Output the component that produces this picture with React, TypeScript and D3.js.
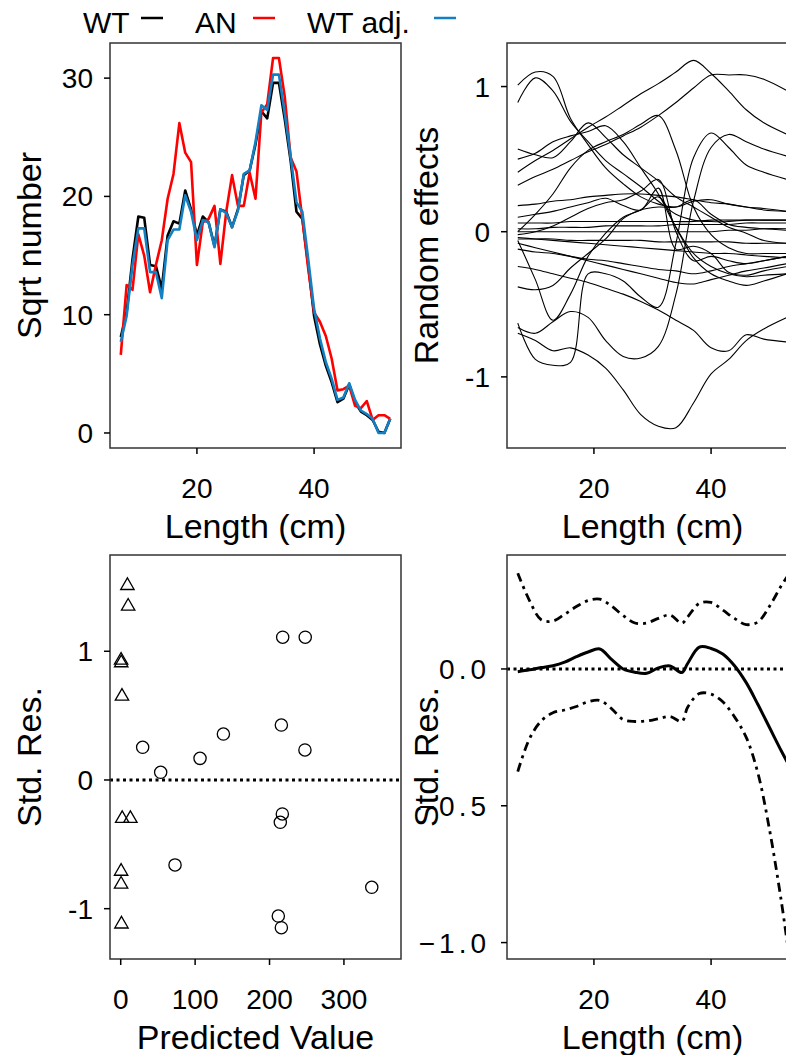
import React from "react";
import * as d3 from "d3";

// ---- panel A: sqrt numbers by length ----
const LENGTHS = [7, 8, 9, 10, 11, 12, 13, 14, 15, 16, 17, 18, 19, 20, 21, 22, 23, 24, 25, 26, 27, 28, 29, 30,
  31, 32, 33, 34, 35, 36, 37, 38, 39, 40, 41, 42, 43, 44, 45, 46, 47, 48, 49, 50, 51, 52, 53];
const WT = [8.1, 10.2, 14.7, 18.3, 18.2, 14.2, 14.1, 12.2, 16.7, 17.9, 17.7, 20.5, 18.9, 16.7, 18.3, 17.8, 15.8,
  18.9, 18.7, 17.4, 18.9, 21.8, 22.2, 24.4, 27.2, 26.6, 29.6, 29.6, 26.5, 23.0, 18.7, 18.1, 14.2, 9.9, 7.5, 5.7,
  4.3, 2.6, 2.9, 4.1, 2.6, 1.8, 1.5, 1.1, 0.1, 0.0, 1.2];
const AN = [6.6, 12.5, 12.1, 16.8, 15.0, 11.9, 14.2, 16.3, 19.8, 21.9, 26.2, 23.7, 22.9, 14.2, 17.8, 18.1, 19.2,
  14.3, 18.7, 21.8, 19.2, 19.2, 22.0, 19.8, 27.1, 27.8, 31.7, 31.7, 28.4, 23.3, 22.1, 18.1, 13.9, 10.2, 9.4, 8.2,
  6.3, 3.6, 3.7, 4.0, 2.3, 2.1, 2.7, 1.1, 1.5, 1.5, 1.2];
const WT_ADJ = [7.7, 9.9, 14.2, 17.3, 17.3, 13.6, 13.6, 11.4, 16.3, 17.2, 17.2, 20.1, 18.7, 16.3, 18.0, 17.8, 15.7,
  18.9, 18.6, 17.4, 18.8, 21.9, 22.2, 24.6, 27.7, 27.3, 30.3, 30.3, 27.0, 23.4, 19.5, 18.7, 14.7, 10.5, 8.0, 6.0,
  4.6, 2.8, 3.0, 4.2, 2.8, 1.9, 1.6, 1.2, 0.0, 0.0, 1.2];

// ---- panel B: random effects ----
const RE_LENGTHS = [7, 10, 13, 16, 19, 22, 25, 28, 31, 34, 37, 40, 43, 46, 49, 53];
const RE_CURVES = [
  [0.41, 0.49, 0.56, 0.64, 0.72, 0.79, 0.87, 0.95, 1.02, 1.1, 1.18, 1.09, 0.97, 0.84, 0.75, 0.67],
  [0.32, 0.38, 0.43, 0.49, 0.55, 0.6, 0.66, 0.72, 0.8, 0.89, 0.99, 1.08, 1.08, 1.08, 1.05, 0.97],
  [1.01, 1.1, 1.07, 0.78, 0.6, 0.44, 0.33, 0.24, 0.19, 0.17, 0.21, 0.22, 0.19, 0.17, 0.15, 0.14],
  [0.89, 1.06, 0.97, 0.76, 0.62, 0.49, 0.4, 0.31, 0.21, 0.12, 0.08, 0.07, 0.07, 0.08, 0.08, 0.08],
  [0.57, 0.53, 0.51, 0.62, 0.75, 0.65, 0.53, 0.44, 0.35, 0.24, 0.17, 0.1, 0.03, -0.01, -0.06, -0.08],
  [0.5, 0.54, 0.62, 0.66, 0.69, 0.73, 0.62, 0.44, 0.26, 0.03, -0.15, -0.24, -0.29, -0.31, -0.3, -0.29],
  [0.0, 0.12, 0.26, 0.44, 0.56, 0.62, 0.67, 0.74, 0.8, 0.56, 0.17, -0.02, -0.11, -0.15, -0.15, -0.15],
  [-0.63, -0.88, -0.92, -0.9, -0.29, -0.29, -0.34, -0.45, -0.52, -0.08, 0.51, 0.68, 0.58, 0.46, 0.41, 0.36],
  [-0.66, -0.7, -0.62, -0.55, -0.59, -0.75, -0.86, -0.87, -0.79, -0.43, 0.21, 0.58, 0.67, 0.62, 0.57, 0.52],
  [-0.7, -0.75, -0.82, -0.8, -0.85, -0.94, -1.09, -1.26, -1.34, -1.35, -1.18, -0.98, -0.88, -0.75, -0.67, -0.59],
  [-0.06, -0.33, -0.61, -0.43, -0.17, -0.01, 0.1, 0.15, 0.24, 0.03, -0.18, -0.29, -0.34, -0.37, -0.34, -0.29],
  [0.18, 0.19, 0.21, 0.22, 0.24, 0.25, 0.26, 0.26, 0.25, 0.24, 0.22, 0.2, 0.19, 0.17, 0.16, 0.14],
  [0.06, 0.06, 0.06, 0.07, 0.07, 0.07, 0.07, 0.07, 0.07, 0.07, 0.07, 0.08, 0.08, 0.08, 0.08, 0.08],
  [0.02, 0.02, 0.03, 0.03, 0.03, 0.04, 0.04, 0.04, 0.04, 0.05, 0.05, 0.05, 0.05, 0.06, 0.06, 0.06],
  [0.0, 0.0, 0.0, 0.0, 0.0, 0.0, 0.0, 0.0, 0.0, 0.0, 0.0, 0.0, 0.01, 0.01, 0.02, 0.02],
  [-0.04, -0.05, -0.06, -0.07, -0.08, -0.09, -0.1, -0.11, -0.12, -0.13, -0.14, -0.15, -0.15, -0.16, -0.17, -0.18],
  [-0.05, -0.05, -0.05, -0.06, -0.06, -0.06, -0.06, -0.06, -0.07, -0.07, -0.07, -0.07, -0.07, -0.08, -0.08, -0.08],
  [-0.12, -0.14, -0.15, -0.17, -0.19, -0.2, -0.22, -0.24, -0.26, -0.27, -0.29, -0.27, -0.24, -0.22, -0.2, -0.17],
  [-0.08, -0.11, -0.14, -0.17, -0.2, -0.23, -0.26, -0.29, -0.32, -0.35, -0.36, -0.33, -0.3, -0.27, -0.25, -0.22],
  [-0.38, -0.4, -0.37, -0.25, -0.15, -0.05, 0.09, 0.15, 0.17, 0.17, 0.22, 0.12, 0.05, 0.03, 0.02, 0.01],
  [-0.24, -0.26, -0.29, -0.32, -0.35, -0.39, -0.43, -0.48, -0.54, -0.61, -0.68, -0.8, -0.82, -0.71, -0.74, -0.76],
  [-0.02, 0.0, 0.04, 0.1, 0.16, 0.2, 0.22, 0.28, 0.36, 0.0, -0.2, -0.17, -0.2, -0.22, -0.2, -0.17],
  [0.1, 0.12, 0.14, 0.17, 0.2, 0.23, 0.18, 0.15, 0.3, -0.12, -0.1, -0.15, -0.28, -0.3, -0.27, -0.24],
];

// ---- panel C: residuals vs predicted ----
const TRI_PRED = [9, 10, 0.5, 0.7, 1.7, 2, 13, 0.5, 0.5, 1];
const TRI_RES = [1.51, 1.35, 0.93, 0.91, 0.65, -0.3, -0.3, -0.71, -0.81, -1.12];
const CIR_PRED = [29.5, 53.7, 73, 106.6, 138, 215.9, 217.7, 248, 247.6, 217.2, 214.5, 211.8, 215.9, 337.4];
const CIR_RES = [0.254, 0.06, -0.66, 0.168, 0.357, 0.427, 1.109, 1.109, 0.233, -0.264, -0.329, -1.057, -1.148, -0.834];

// ---- panel D: smoothed residuals vs length ----
const FIT_LENGTHS = [7, 9, 11, 13, 15, 17, 19, 21, 23, 25, 27, 29, 31, 33, 35, 36, 38, 40, 42, 44, 46, 48, 50, 52, 53];
const FIT_MEAN = [-0.01, -0.003, 0.005, 0.012, 0.025, 0.045, 0.062, 0.073, 0.035, 0.0, -0.012, -0.016, 0.004, 0.011,
  -0.013, 0.02, 0.08, 0.075, 0.055, 0.012, -0.05, -0.13, -0.215, -0.3, -0.34];
const FIT_UPPER = [0.35, 0.25, 0.18, 0.175, 0.2, 0.228, 0.25, 0.255, 0.23, 0.195, 0.168, 0.168, 0.185, 0.197, 0.167,
  0.19, 0.24, 0.243, 0.215, 0.185, 0.162, 0.172, 0.23, 0.305, 0.337];
const FIT_LOWER = [-0.375, -0.255, -0.19, -0.16, -0.15, -0.137, -0.12, -0.115, -0.145, -0.185, -0.192, -0.19, -0.182,
  -0.174, -0.192, -0.14, -0.09, -0.092, -0.12, -0.175, -0.25, -0.381, -0.59, -0.85, -1.0];

const FONT = "'Liberation Sans', Arial, sans-serif";

// one framed panel with its axes
const Frame = ({ x0, x1, y0, y1, xScale, yScale, xTicks, yTicks, yFmt, xTitle, yTitle, ySpacing }) => (
  <g fontFamily={FONT}>
    <rect x={x0} y={y0} width={x1 - x0} height={y1 - y0} fill="none" stroke="#333" strokeWidth={1.5} />
    {xTicks.map(t => (
      <g key={"x" + t}>
        <line x1={xScale(t)} x2={xScale(t)} y1={y1} y2={y1 + 6} stroke="#000" strokeWidth={1.5} />
        <text x={xScale(t)} y={y1 + 50} fontSize={28} textAnchor="middle">{t}</text>
      </g>
    ))}
    {yTicks.map(t => (
      <g key={"y" + t}>
        <line x1={x0 - 6} x2={x0} y1={yScale(t)} y2={yScale(t)} stroke="#000" strokeWidth={1.5} />
        <text x={x0 - 17} y={yScale(t)} dy="0.36em" fontSize={28} textAnchor="end" letterSpacing={ySpacing || 0}>
          {yFmt ? yFmt(t) : t}
        </text>
      </g>
    ))}
    <text x={(x0 + x1) / 2} y={y1 + 90} fontSize={34} textAnchor="middle">{xTitle}</text>
    <text transform={`translate(${x0 - 69},${(y0 + y1) / 2}) rotate(-90)`} fontSize={34} textAnchor="middle">
      {yTitle}
    </text>
  </g>
);

export default function App() {
  const TOP = [43, 448];
  const BOT = [555, 959];
  const LEFT = [110, 401];
  const RIGHT = [507, 798];

  // panel A
  const xA = d3.scaleLinear().domain([5.16, 54.84]).range(LEFT);
  const yA = d3.scaleLinear().domain([-1.27, 32.97]).range([TOP[1], TOP[0]]);
  const lineA = d3.line<number>().x((_, i) => xA(LENGTHS[i])).y(d => yA(d));

  // panel B
  const xB = d3.scaleLinear().domain([5.16, 54.84]).range(RIGHT);
  const yB = d3.scaleLinear().domain([-1.49, 1.3]).range([TOP[1], TOP[0]]);
  const lineB = d3.line<number>().x((_, i) => xB(RE_LENGTHS[i])).y(d => yB(d)).curve(d3.curveCatmullRom);

  // panel C
  const xC = d3.scaleLinear().domain([-14.4, 376.7]).range(LEFT);
  const yC = d3.scaleLinear().domain([-1.391, 1.748]).range([BOT[1], BOT[0]]);
  const tri = d3.symbol().type(d3.symbolTriangle).size(78)();
  const cir = d3.symbol().type(d3.symbolCircle).size(118)();

  // panel D
  const xD = d3.scaleLinear().domain([5.16, 54.84]).range(RIGHT);
  const yD = d3.scaleLinear().domain([-1.06, 0.4165]).range([BOT[1], BOT[0]]);
  const lineD = d3.line<number>().x((_, i) => xD(FIT_LENGTHS[i])).y(d => yD(d)).curve(d3.curveCatmullRom);

  const legend = [
    { label: "WT", color: "#000", tx: 83, lx: 141 },
    { label: "AN", color: "#ff0000", tx: 195, lx: 253 },
    { label: "WT adj.", color: "#1380c3", tx: 307, lx: 434 },
  ];

  return (
    <svg width={786} height={1055} style={{ position: "absolute", left: 0, top: 0, background: "#fff" }}>
      <defs>
        <clipPath id="clipB"><rect x={RIGHT[0]} y={TOP[0]} width={RIGHT[1] - RIGHT[0]} height={TOP[1] - TOP[0]} /></clipPath>
        <clipPath id="clipD"><rect x={RIGHT[0]} y={BOT[0]} width={RIGHT[1] - RIGHT[0]} height={BOT[1] - BOT[0]} /></clipPath>
      </defs>

      {/* legend */}
      <g fontFamily={FONT} fontSize={30}>
        {legend.map(l => (
          <g key={l.label}>
            <text x={l.tx} y={33}>{l.label}</text>
            <line x1={l.lx} x2={l.lx + 22} y1={18} y2={18} stroke={l.color} strokeWidth={2.5} />
          </g>
        ))}
      </g>

      {/* A */}
      <path d={lineA(WT)} fill="none" stroke="#000" strokeWidth={2.6} strokeLinejoin="round" />
      <path d={lineA(AN)} fill="none" stroke="#ff0000" strokeWidth={2.6} strokeLinejoin="round" />
      <path d={lineA(WT_ADJ)} fill="none" stroke="#1380c3" strokeWidth={2.6} strokeLinejoin="round" />
      <Frame x0={LEFT[0]} x1={LEFT[1]} y0={TOP[0]} y1={TOP[1]} xScale={xA} yScale={yA}
        xTicks={[20, 40]} yTicks={[0, 10, 20, 30]} xTitle="Length (cm)" yTitle="Sqrt number" />

      {/* B */}
      <g clipPath="url(#clipB)">
        {RE_CURVES.map((c, i) => (
          <path key={i} d={lineB(c)} fill="none" stroke="#000" strokeWidth={1.1} />
        ))}
      </g>
      <Frame x0={RIGHT[0]} x1={RIGHT[1]} y0={TOP[0]} y1={TOP[1]} xScale={xB} yScale={yB}
        xTicks={[20, 40]} yTicks={[-1, 0, 1]} xTitle="Length (cm)" yTitle="Random effects" />

      {/* C */}
      <line x1={LEFT[0]} x2={LEFT[1]} y1={yC(0)} y2={yC(0)} stroke="#000" strokeWidth={3} strokeDasharray="3 3.5" />
      {TRI_PRED.map((p, i) => (
        <path key={"t" + i} d={tri} transform={`translate(${xC(p)},${yC(TRI_RES[i])})`}
          fill="none" stroke="#000" strokeWidth={1.3} />
      ))}
      {CIR_PRED.map((p, i) => (
        <path key={"c" + i} d={cir} transform={`translate(${xC(p)},${yC(CIR_RES[i])})`}
          fill="none" stroke="#000" strokeWidth={1.3} />
      ))}
      <Frame x0={LEFT[0]} x1={LEFT[1]} y0={BOT[0]} y1={BOT[1]} xScale={xC} yScale={yC}
        xTicks={[0, 100, 200, 300]} yTicks={[-1, 0, 1]} xTitle="Predicted Value" yTitle="Std. Res." />

      {/* D */}
      <g clipPath="url(#clipD)">
        <line x1={RIGHT[0]} x2={RIGHT[1]} y1={yD(0)} y2={yD(0)} stroke="#000" strokeWidth={3} strokeDasharray="3 3.5" />
        <path d={lineD(FIT_MEAN)} fill="none" stroke="#000" strokeWidth={3} />
        <path d={lineD(FIT_UPPER)} fill="none" stroke="#000" strokeWidth={2.8} strokeDasharray="9 5 3 5" />
        <path d={lineD(FIT_LOWER)} fill="none" stroke="#000" strokeWidth={2.8} strokeDasharray="9 5 3 5" />
      </g>
      <Frame x0={RIGHT[0]} x1={RIGHT[1]} y0={BOT[0]} y1={BOT[1]} xScale={xD} yScale={yD}
        xTicks={[20, 40]} yTicks={[-1, -0.5, 0]} yFmt={d3.format(".1f")} ySpacing={4}
        xTitle="Length (cm)" yTitle="Std. Res." />
    </svg>
  );
}
